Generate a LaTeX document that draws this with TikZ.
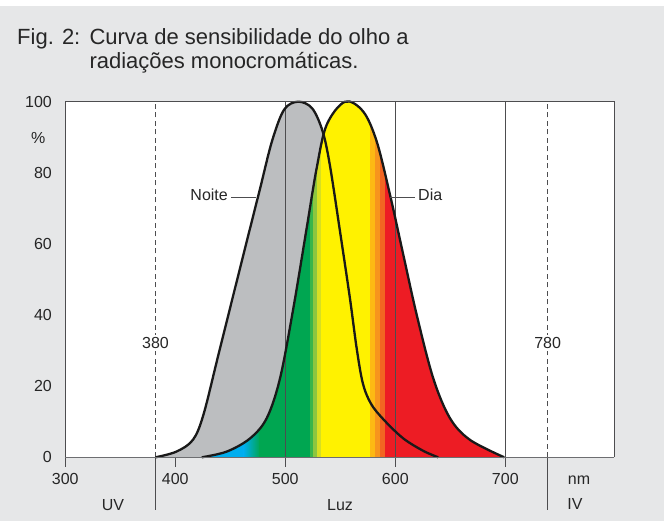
\documentclass[tikz,border=0pt]{standalone}
\usepackage{fontspec}
\setmainfont{Liberation Sans}
\usetikzlibrary{calc}
\definecolor{bggray}{HTML}{E6E7E8}
\definecolor{framegray}{HTML}{4D4D4F}
\definecolor{axisgray}{HTML}{6D6E71}
\definecolor{noitegray}{HTML}{BCBEC0}
\definecolor{specblue}{HTML}{00AEEF}
\definecolor{specgreen}{HTML}{00A651}
\definecolor{specgreenb}{HTML}{39B54A}
\definecolor{speclime}{HTML}{8DC63F}
\definecolor{specyg}{HTML}{D7DF23}
\definecolor{specyellow}{HTML}{FFF200}
\definecolor{specamber}{HTML}{FDB913}
\definecolor{specorange}{HTML}{F7941D}
\definecolor{specdkorange}{HTML}{F26522}
\definecolor{specred}{HTML}{ED1C24}
\tikzset{
  mytitle/.style={
    font=\fontsize{22}{24}\selectfont,
    text=black!85,
    inner sep=0pt,
  },
  mylabel/.style={
    font=\fontsize{16}{18}\selectfont,
    text=black!85,
    inner sep=0pt,
  },
  myvalue/.style={
    mylabel,
    fill=white,
    inner sep=2pt,
  },
  mycurve/.style={
    draw=black!90,
    line width=2.3pt,
    line join=round,
  },
  myguide/.style={
    draw=framegray,
    line width=0.9pt,
  },
  mydashed/.style={
    draw=framegray,
    line width=0.9pt,
    dash pattern=on 5pt off 3.5pt,
  },
}
% curves in (nm, %)
\newcommand{\noitecurve}{plot[smooth, tension=0.55] coordinates {
  (382,0) (401,1.6) (416,4.9) (425.5,11.9) (439,28.6) (452.7,45.6)
  (466,62) (477,75.5) (488,89) (499,97.8) (511.8,100) (524.5,98.1)
  (534,91.6) (540.6,82) (549.7,63.6) (558.8,44.6) (564.9,30.6)
  (570.5,20.8) (578,15) (590,10.4) (607.3,5.3) (625.5,1.8) (639,0)}}
\newcommand{\diacurve}{plot[smooth, tension=0.55] coordinates {
  (424,0) (446.7,1.6) (467.9,5.3) (483.1,11) (495.2,22.2) (507.3,41.9)
  (519.4,64.4) (528.5,81.3) (537.6,93.5) (554.3,100) (570.9,97.2)
  (583.1,88.8) (595.2,73.8) (607.3,56.9) (619.5,40) (634.5,22.2)
  (649.7,11) (667.9,4.9) (699,0)}}

\begin{document}
\begin{tikzpicture}[x=1pt, y=-1pt]
    \useasboundingbox (0,0) rectangle (664,521);
    \fill[white] (0,0) rectangle (664,6);
    \fill[bggray] (0,6) rectangle (664,521);
    \fill[white] (65.3,101.7) rectangle (614,457.3);

    \node [mytitle, anchor=base west] (figno) at (17,45) {Fig. 2:};
    \node [mytitle, anchor=base west] (titleone) at (89.3,45) {Curva de sensibilidade do olho a};
    \node [mytitle, anchor=base west] (titletwo) at (89.3,68.3) {radiações monocromáticas.};

    \begin{scope}[xshift=-264.7pt, yshift=-457.3pt, x=1.1pt, y=3.556pt]
      \fill[noitegray] \noitecurve -- cycle;

      % spectrum under the day curve
      \begin{scope}
        \clip \diacurve -- cycle;
        \fill[specblue] (400,0) rectangle (462,101);
        \shade[left color=specblue, right color=specgreen] (462,0) rectangle (477,101);
        \fill[specgreen] (476.5,0) rectangle (522.5,101);
        \fill[specgreenb] (522.5,0) rectangle (525.5,101);
        \fill[speclime] (525.5,0) rectangle (528.5,101);
        \fill[specyg] (528.5,0) rectangle (532,101);
        \fill[specyellow] (532,0) rectangle (577,101);
        \fill[specamber] (577,0) rectangle (581.5,101);
        \fill[specorange] (581.5,0) rectangle (586,101);
        \fill[specdkorange] (586,0) rectangle (590.6,101);
        \fill[specred] (590.6,0) rectangle (701,101);
      \end{scope}

      \foreach \wl in {500,600,700}
        \draw[myguide] (\wl,-2.65) -- (\wl,100);
      \foreach \wl in {300,400}
        \draw[myguide] (\wl,-2.65) -- (\wl,0);
      \foreach \wl in {382,738.5} {
        \draw[mydashed] (\wl,0) -- (\wl,100);
        \draw[myguide] (\wl,0) -- (\wl,-14.8);
      }

      \draw[mycurve] \noitecurve;
      \draw[mycurve] \diacurve;

      \node [myvalue] (limuv) at (382,32.1) {380};
      \node [myvalue] (limiv) at (738.5,32.1) {780};
    \end{scope}

    \draw[myguide] (65.3,457.3) -- (65.3,101.7) -- (614,101.7) -- (614,457.3);
    \draw[axisgray, line width=1.6pt] (65.3,457.3) -- (614,457.3);

    % axis labels
    \foreach \v in {0,20,...,100}
      \node [mylabel, anchor=east] (ylab\v) at (52,{457.3-3.556*\v}) {\v};
    \node [mylabel] (pct) at (38.3,138) {\%};
    \foreach \v in {300,400,...,700}
      \node [mylabel] (xlab\v) at ({65.3+1.1*(\v-300)},479.3) {\v};
    \node [mylabel] (unit) at (579,480) {nm};
    \node [mylabel] (uv) at (113,505) {UV};
    \node [mylabel] (luz) at (340,505) {Luz};
    \node [mylabel] (iv) at (575,504) {IV};

    % curve names
    \node [mylabel, anchor=base east, inner sep=3pt] (noite) at (231,201) {Noite};
    \node [mylabel, anchor=base west, inner sep=3pt] (dia) at (415,201) {Dia};
    \coordinate (noitept) at (256,197.7);
    \coordinate (diapt) at (390,197.7);
    \draw[myguide] (noite.east |- noitept) -- (noitept);
    \draw[myguide] (diapt) -- (dia.west |- diapt);
\end{tikzpicture}
\end{document}
